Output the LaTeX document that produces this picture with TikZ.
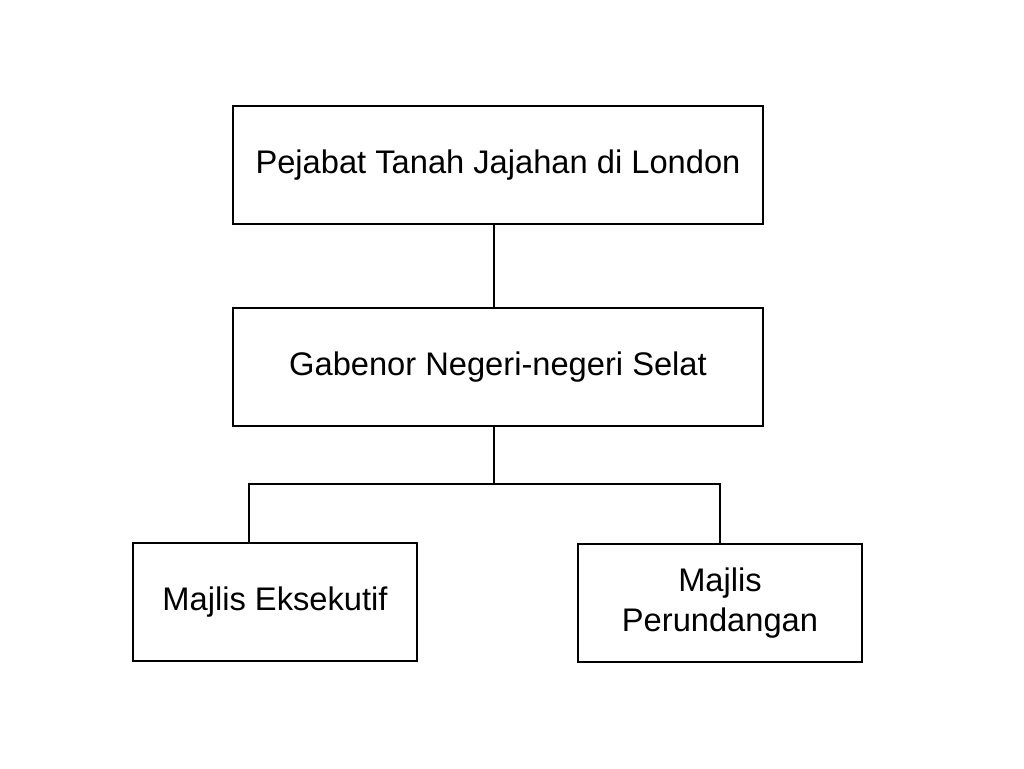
\documentclass[tikz,border=0pt]{standalone}
\usepackage{fontspec}
\setmainfont{Liberation Sans}
\begin{document}
\begin{tikzpicture}[x=0.75pt,y=-0.75pt,
  box/.style={draw,line width=1.2pt,inner sep=0pt,minimum height=88.5pt,
    align=center,font=\fontsize{24.5}{30}\selectfont}]
  \useasboundingbox (0,0) rectangle (1024,768);
  \node[box,minimum width=397.5pt] (pejabat) at (498,165) {Pejabat Tanah Jajahan di London};
  \node[box,minimum width=397.5pt] (gabenor) at (498,367) {Gabenor Negeri-negeri Selat};
  \node[box,minimum width=213pt] (eksekutif) at (275,602) {Majlis Eksekutif};
  \node[box,minimum width=213pt] (perundangan) at (720,603) {Majlis\\Perundangan};
  \coordinate (split) at (494,484);
  \coordinate (splitl) at (249,484);
  \coordinate (splitr) at (720,484);
  \draw[line width=1.2pt] (split |- pejabat.south) -- (split |- gabenor.north);
  \draw[line width=1.2pt] (split |- gabenor.south) -- (split);
  \draw[line width=1.2pt] (splitl |- eksekutif.north) -- (splitl) -- (splitr) -- (perundangan.north);
\end{tikzpicture}
\end{document}
